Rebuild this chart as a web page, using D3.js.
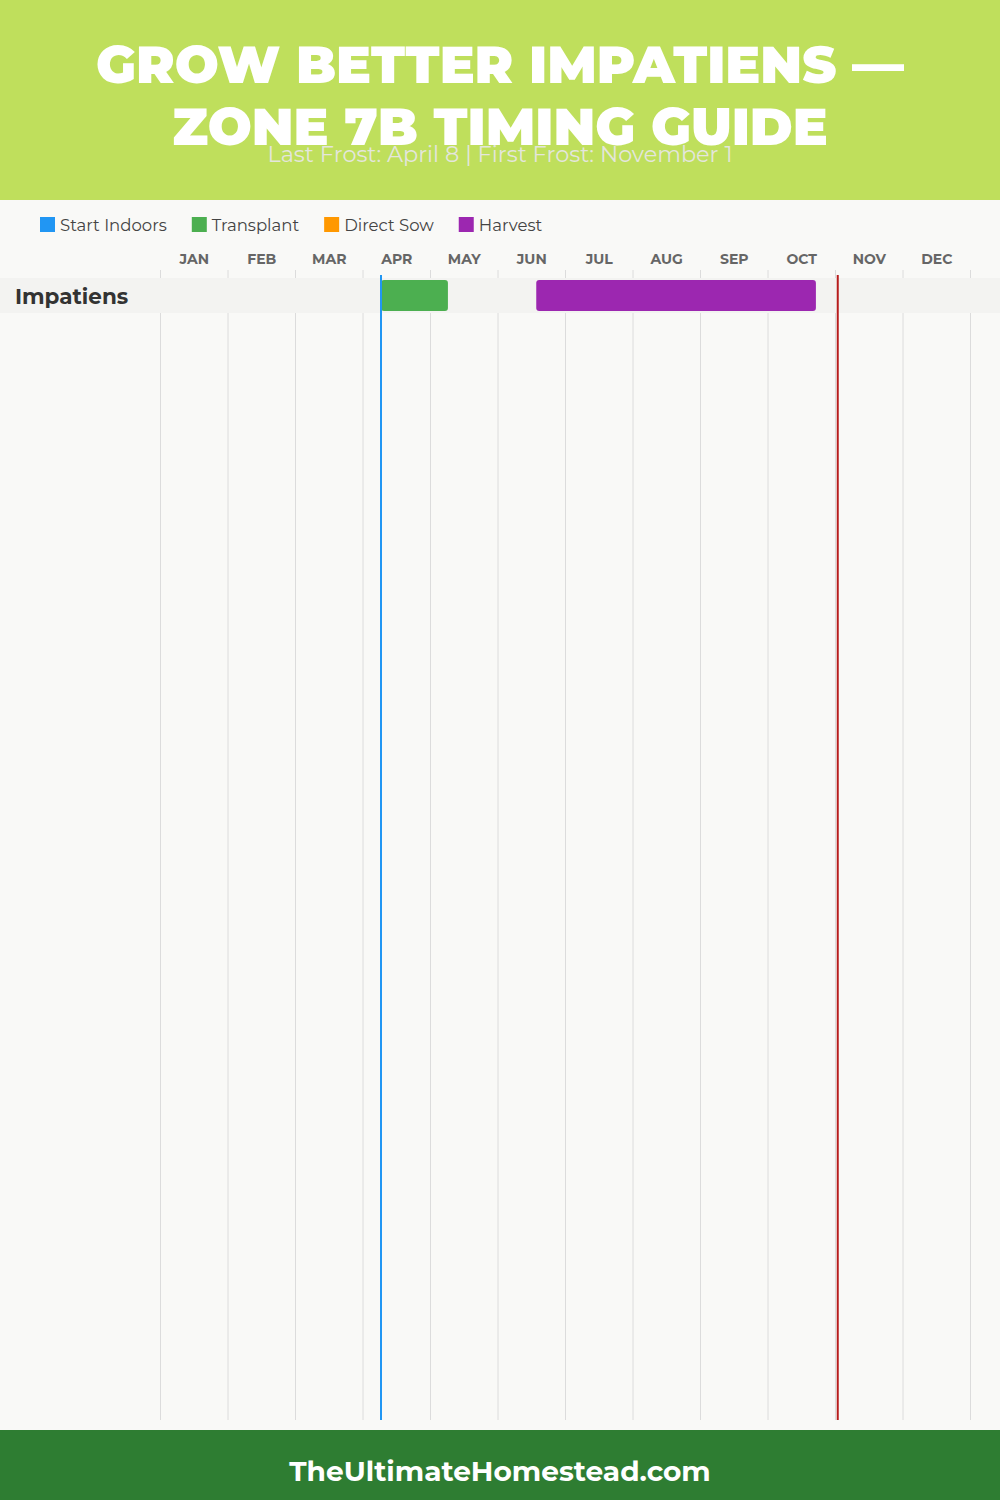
<!DOCTYPE html>
<html><head><meta charset="utf-8">
<script src="https://cdn.jsdelivr.net/npm/d3@7"></script>
<style>html,body{margin:0;padding:0;background:#f9f9f7;}svg{display:block;}</style>
</head><body>
<svg id="chart" width="1000" height="1500"></svg>
<script>
const titleLines = ["GROW BETTER IMPATIENS —", "ZONE 7B TIMING GUIDE"];
const subtitle = "Last Frost: April 8 | First Frost: November 1";
const footerText = "TheUltimateHomestead.com";
const months = ["JAN","FEB","MAR","APR","MAY","JUN","JUL","AUG","SEP","OCT","NOV","DEC"];
const legendLabels = ["Start Indoors","Transplant","Direct Sow","Harvest"];
const legendColors = ["#2196f3","#4caf50","#ff9800","#9c27b0"];
const crops = ["Impatiens"];
// tasks: crop, type, start [month, day], end [month, day]
const taskCrop  = ["Impatiens","Impatiens"];
const taskType  = ["Transplant","Harvest"];
const taskStart = [[4,8],[6,17]];
const taskEnd   = [[5,8],[10,22]];
const lastFrost = [4,8];
const firstFrost = [11,1];

const daysIn = [31,28,31,30,31,30,31,31,30,31,30,31];
const mpos = ([m,d]) => (m-1) + d/daysIn[m-1];

const W = 1000, H = 1500;
const svg = d3.select("#chart");
const FONT = "Montserrat, 'DejaVu Sans', sans-serif";

svg.append("rect").attr("width",W).attr("height",H).attr("fill","#f9f9f7");
// header
svg.append("rect").attr("x",0).attr("y",0).attr("width",W).attr("height",200).attr("fill","#bfdf5c");
svg.selectAll("text.title").data(titleLines).join("text").attr("class","title")
  .attr("x",500).attr("y",(d,i)=>83+i*62).attr("text-anchor","middle")
  .attr("fill","#fff").attr("font-family",FONT).attr("font-weight",900).attr("font-size",52)
  .text(d=>d);
svg.append("text").attr("x",500).attr("y",162).attr("text-anchor","middle")
  .attr("fill","#e4e6dc").attr("font-family",FONT).attr("font-weight",400).attr("font-size",22.4).text(subtitle);

// legend
const leg = svg.append("g");
let lx = 40;
legendLabels.forEach((l,i)=>{
  leg.append("rect").attr("x",lx).attr("y",217).attr("width",15).attr("height",15).attr("fill",legendColors[i]);
  const t = leg.append("text").attr("x",lx+20).attr("y",231).attr("fill","#444")
    .attr("font-family",FONT).attr("font-size",16.5).text(l);
  lx += 20 + t.node().getComputedTextLength() + 25;
});

// scales
const x = d3.scaleLinear().domain([0,12]).range([160.5,970.5]);
const y = d3.scaleBand().domain(crops).range([278,313]);

// grid lines
svg.append("g").selectAll("line").data(d3.range(13)).join("line")
  .attr("x1",d=>x(d)).attr("x2",d=>x(d)).attr("y1",270).attr("y2",1420)
  .attr("stroke","#dcdcdc").attr("stroke-width",1);

// month labels
svg.append("g").selectAll("text").data(months).join("text")
  .attr("x",(d,i)=>x(i+0.5)).attr("y",264).attr("text-anchor","middle")
  .attr("fill","#666").attr("font-family",FONT).attr("font-weight",700).attr("font-size",14)
  .text(d=>d);

// row bands
svg.append("g").selectAll("rect").data(crops).join("rect")
  .attr("x",0).attr("width",W).attr("y",d=>y(d)).attr("height",y.bandwidth()).attr("fill","#f3f3f1");
svg.append("g").selectAll("text").data(crops).join("text")
  .attr("x",15).attr("y",d=>y(d)+26).attr("fill","#333")
  .attr("font-family",FONT).attr("font-weight",700).attr("font-size",21.5).text(d=>d);

// bars
const color = d3.scaleOrdinal().domain(legendLabels).range(legendColors);
svg.append("g").selectAll("rect").data(taskCrop.map((c,i)=>({c,t:taskType[i],s:taskStart[i],e:taskEnd[i]}))).join("rect")
  .attr("x",d=>x(mpos(d.s))).attr("width",d=>x(mpos(d.e))-x(mpos(d.s)))
  .attr("y",d=>y(d.c)+2).attr("height",y.bandwidth()-4).attr("rx",3)
  .attr("fill",d=>color(d.t));

// frost lines
svg.append("line").attr("x1",x(mpos(lastFrost))).attr("x2",x(mpos(lastFrost)))
  .attr("y1",275).attr("y2",1420).attr("stroke","#2196f3").attr("stroke-width",2);
svg.append("line").attr("x1",x(mpos(firstFrost))).attr("x2",x(mpos(firstFrost)))
  .attr("y1",275).attr("y2",1420).attr("stroke","#b71c1c").attr("stroke-width",2);

// footer
svg.append("rect").attr("x",0).attr("y",1430).attr("width",W).attr("height",70).attr("fill","#2e7d32");
svg.append("text").attr("x",500).attr("y",1481).attr("text-anchor","middle").attr("fill","#fff")
  .attr("font-family",FONT).attr("font-weight",700).attr("font-size",28).text(footerText);
</script>
</body></html>
